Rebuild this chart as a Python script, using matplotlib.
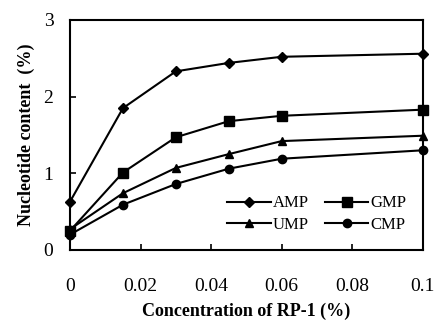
import matplotlib
matplotlib.use("Agg")
import matplotlib.pyplot as plt

x = [0, 0.015, 0.03, 0.045, 0.06, 0.1]
amp = [0.63, 1.85, 2.33, 2.44, 2.52, 2.56]
gmp = [0.25, 1.01, 1.47, 1.68, 1.75, 1.83]
ump = [0.27, 0.74, 1.07, 1.25, 1.42, 1.49]
cmp_ = [0.20, 0.59, 0.86, 1.06, 1.19, 1.30]
xticks = [0, 0.02, 0.04, 0.06, 0.08, 0.1]
xticklabels = ["0", "0.02", "0.04", "0.06", "0.08", "0.1"]
yticks = [0, 1, 2, 3]

plt.rcParams['font.family'] = ['Liberation Serif', 'DejaVu Serif']

fig = plt.figure(figsize=(4.35, 3.2), dpi=100)
ax = fig.add_axes([0.161, 0.219, 0.811, 0.7185])

kw = dict(color='black', lw=1.5, clip_on=False)
l1, = ax.plot(x, amp, marker='D', ms=5, label='AMP', **kw)
l2, = ax.plot(x, gmp, marker='s', ms=6.5, label='GMP', **kw)
l3, = ax.plot(x, ump, marker='^', ms=6, label='UMP', **kw)
l4, = ax.plot(x, cmp_, marker='o', ms=6, label='CMP', **kw)

ax.set_xlim(0, 0.1)
ax.set_ylim(0, 3)
ax.set_xticks(xticks)
ax.set_xticklabels(xticklabels)
ax.set_yticks(yticks)
ax.tick_params(direction='in', length=4, width=1.2, labelsize=14)
ax.tick_params(axis='x', pad=20)
ax.tick_params(axis='y', pad=12)
for s in ax.spines.values():
    s.set_linewidth(1.5)

ax.set_xlabel('Concentration of RP-1 (%)', fontsize=13, fontweight='bold', labelpad=6)
ax.set_ylabel('Nucleotide content  (%)', fontsize=13, fontweight='bold', labelpad=6)

ax.legend([l1, l3, l2, l4], ['AMP', 'UMP', 'GMP', 'CMP'], ncol=2, loc='lower right',
          frameon=False, fontsize=12, handlelength=2.6, handletextpad=0.1,
          columnspacing=1.0, labelspacing=0.35, borderaxespad=0.6)

fig.savefig('out.png', dpi=100)
